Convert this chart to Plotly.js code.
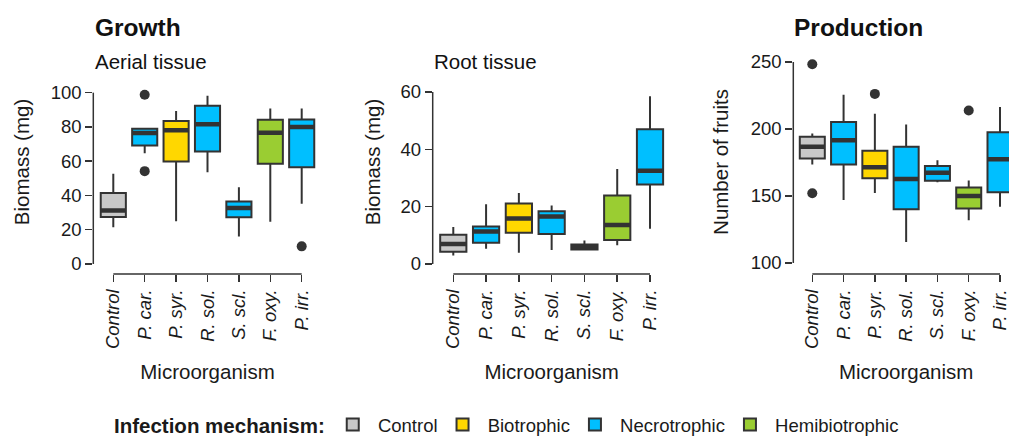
<!DOCTYPE html>
<html>
<head>
<meta charset="utf-8">
<script src="https://cdn.plot.ly/plotly-3.0.1.min.js"></script>
<style>
  html, body { margin: 0; padding: 0; overflow: hidden; background: #ffffff; }
  #chart { width: 1030px; height: 437px; }
</style>
</head>
<body>
<div id="chart"></div>
<script>
// ---------- data ----------
const categories = ['Control', 'P. car.', 'P. syr.', 'R. sol.', 'S. scl.', 'F. oxy.', 'P. irr.'];
const mechanism  = ['Control', 'Necrotrophic', 'Biotrophic', 'Necrotrophic', 'Necrotrophic', 'Hemibiotrophic', 'Necrotrophic'];
const groups     = ['Control', 'Biotrophic', 'Necrotrophic', 'Hemibiotrophic'];
const groupColors = ['#c8c8c8', '#ffd700', '#00bfff', '#9acd32'];

// Aerial tissue biomass (mg)
const aerialLower  = [21.4, 64.7, 25.0, 53.6, 16.0, 24.6, 35.1];
const aerialQ1     = [27.5, 69.2, 59.8, 65.7, 27.3, 58.5, 56.5];
const aerialMedian = [31.2, 76.4, 78.0, 81.5, 32.7, 76.6, 79.9];
const aerialQ3     = [41.5, 78.9, 83.4, 92.4, 36.5, 84.2, 84.4];
const aerialUpper  = [52.6, 78.9, 89.3, 98.2, 44.8, 90.8, 90.8];
const aerialOutX   = ['P. car.', 'P. car.', 'P. irr.'];
const aerialOutY   = [98.8, 54.2, 10.3];

// Root tissue biomass (mg)
const rootLower  = [3.0, 5.3, 3.9, 4.9, 4.7, 6.5, 12.3];
const rootQ1     = [4.3, 7.4, 10.9, 10.5, 5.1, 8.4, 27.7];
const rootMedian = [7.0, 11.3, 15.9, 16.6, 5.8, 13.6, 32.5];
const rootQ3     = [10.2, 13.1, 21.1, 18.4, 6.8, 23.9, 47.0];
const rootUpper  = [12.9, 20.8, 24.8, 20.4, 8.2, 33.1, 58.5];

// Production: number of fruits
const fruitLower  = [173.6, 147.0, 152.3, 115.6, 160.3, 131.9, 142.0];
const fruitQ1     = [177.9, 173.6, 163.3, 140.2, 161.3, 140.7, 152.8];
const fruitMedian = [186.7, 191.7, 171.4, 162.6, 167.3, 150.0, 177.4];
const fruitQ3     = [194.2, 205.3, 183.7, 186.7, 172.4, 156.3, 197.5];
const fruitUpper  = [196.7, 225.6, 211.3, 203.3, 176.6, 161.6, 216.4];
const fruitOutX   = ['Control', 'Control', 'P. syr.', 'F. oxy.'];
const fruitOutY   = [248.3, 152.0, 226.2, 213.8];

const aerialTicks = [0, 20, 40, 60, 80, 100];
const rootTicks   = [0, 20, 40, 60];
const fruitTicks  = [100, 150, 200, 250];

// ---------- styling ----------
const FONT = '"Liberation Sans", Arial, Helvetica, sans-serif';
const DARK = '#333333';
const TXT = '#1a1a1a';

const panels = [
  { sfx: '',  lo: aerialLower, q1: aerialQ1, med: aerialMedian, q3: aerialQ3, hi: aerialUpper,
    outX: aerialOutX, outY: aerialOutY, ticks: aerialTicks, ytitle: 'Biomass (mg)',
    dom: [93.3, 321.7], xr: [-0.637, 6.637], yr: [-5.84, 124.9], standoff: 15 },
  { sfx: '2', lo: rootLower, q1: rootQ1, med: rootMedian, q3: rootQ3, hi: rootUpper,
    outX: [], outY: [], ticks: rootTicks, ytitle: 'Biomass (mg)',
    dom: [432.7, 670.6], xr: [-0.628, 6.628], yr: [-3.49, 74.65], standoff: 14 },
  { sfx: '3', lo: fruitLower, q1: fruitQ1, med: fruitMedian, q3: fruitQ3, hi: fruitUpper,
    outX: fruitOutX, outY: fruitOutY, ticks: fruitTicks, ytitle: 'Number of fruits',
    dom: [793.3, 1019], xr: [-0.607, 6.607], yr: [91.79, 258.96], standoff: 16 }
];

const W = 1030, H = 437;
const data = [];
const layout = {
  width: W, height: H,
  margin: { l: 0, r: 0, t: 50, b: 163, autoexpand: false },
  paper_bgcolor: '#ffffff', plot_bgcolor: '#ffffff',
  font: { family: FONT, color: TXT, size: 18.5 },
  boxmode: 'overlay',
  showlegend: true,
  legend: {
    orientation: 'h', xref: 'container', yref: 'container',
    x: 112 / W, y: 1 - 425 / H, xanchor: 'left', yanchor: 'middle',
    font: { family: FONT, size: 18.5, color: TXT },
    title: { text: 'Infection mechanism:', side: 'left', font: { family: FONT, size: 20.5, color: TXT, weight: 'bold' } },
    itemclick: false, itemdoubleclick: false, traceorder: 'normal',
    bgcolor: 'rgba(0,0,0,0)'
  },
  shapes: [],
  annotations: []
};

panels.forEach((p, pi) => {
  const xa = 'x' + p.sfx, ya = 'y' + p.sfx;
  groups.forEach((g, gi) => {
    const idx = categories.map((c, i) => i).filter(i => mechanism[i] === g);
    data.push({
      type: 'box', name: '\u00a0' + g, legendgroup: g, showlegend: pi === 0,
      xaxis: xa, yaxis: ya,
      x: idx.map(i => categories[i]),
      q1: idx.map(i => p.q1[i]), median: idx.map(i => p.med[i]), q3: idx.map(i => p.q3[i]),
      lowerfence: idx.map(i => p.lo[i]), upperfence: idx.map(i => p.hi[i]),
      boxpoints: false, width: 0.8, whiskerwidth: 0,
      fillcolor: groupColors[gi], line: { color: DARK, width: 2 },
      hoverinfo: 'skip'
    });
  });
  // thick median bars
  data.push({
    type: 'box', showlegend: false, xaxis: xa, yaxis: ya,
    x: categories, q1: p.med, median: p.med, q3: p.med, lowerfence: p.med, upperfence: p.med,
    boxpoints: false, width: 0.8, whiskerwidth: 0,
    fillcolor: 'rgba(0,0,0,0)', line: { color: DARK, width: 4.5 }, hoverinfo: 'skip'
  });
  if (p.outX.length) {
    data.push({
      type: 'scatter', mode: 'markers', showlegend: false, xaxis: xa, yaxis: ya,
      x: p.outX, y: p.outY, marker: { color: DARK, size: 10 }, hoverinfo: 'skip', cliponaxis: false
    });
  }

  layout['xaxis' + p.sfx] = {
    domain: [p.dom[0] / W, p.dom[1] / W], anchor: ya, type: 'category',
    categoryorder: 'array', categoryarray: categories, range: p.xr,
    tickangle: -90, ticks: 'outside', ticklen: 7, tickwidth: 1.5, tickcolor: DARK,
    showline: false, showgrid: false, zeroline: false, automargin: true,
    tickfont: { family: FONT, size: 18.5, color: TXT, style: 'italic' },
    title: { text: 'Microorganism', font: { family: FONT, size: 20.5, color: TXT }, standoff: 16 },
    fixedrange: true
  };
  layout['yaxis' + p.sfx] = {
    domain: [0, 1], anchor: xa, range: p.yr, tickvals: p.ticks,
    ticks: 'outside', ticklen: 7, tickwidth: 1.5, tickcolor: DARK,
    showline: false, showgrid: false, zeroline: false, automargin: true,
    tickfont: { family: FONT, size: 18.5, color: TXT },
    title: { text: p.ytitle, font: { family: FONT, size: 20.5, color: TXT }, standoff: p.standoff },
    fixedrange: true
  };
  // R-style axis lines spanning only the data extent
  layout.shapes.push({
    type: 'line', xref: xa, yref: ya + ' domain', x0: 0, x1: categories.length - 1, y0: 0, y1: 0,
    line: { color: DARK, width: 1.5 }, layer: 'above'
  });
  layout.shapes.push({
    type: 'line', xref: xa + ' domain', yref: ya, x0: 0, x1: 0,
    y0: p.ticks[0], y1: p.ticks[p.ticks.length - 1],
    line: { color: DARK, width: 1.5 }, layer: 'above'
  });
});

const plotTop = 50, plotH = 224;
function py(px) { return (plotTop + plotH - px) / plotH; }
function ann(text, xpx, ypx, size, bold) {
  return { text: text, xref: 'paper', yref: 'paper', x: xpx / W, y: py(ypx),
    xanchor: 'left', yanchor: 'middle', showarrow: false,
    font: { family: FONT, size: size, color: '#111111', weight: bold ? 'bold' : 'normal' } };
}
layout.annotations.push(ann('Growth', 93, 27.5, 24.5, true));
layout.annotations.push(ann('Aerial tissue', 93, 61, 20.5, false));
layout.annotations.push(ann('Root tissue', 432, 61, 20.5, false));
layout.annotations.push(ann('Production', 792, 27.5, 24.5, true));

Plotly.newPlot('chart', data, layout, { staticPlot: true, displayModeBar: false });
</script>
</body>
</html>
